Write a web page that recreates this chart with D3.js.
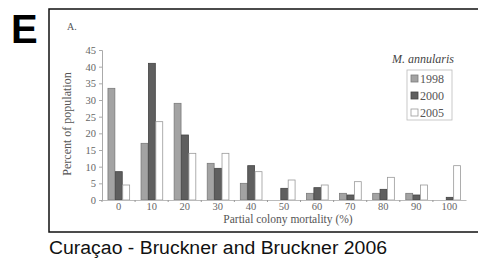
<!DOCTYPE html>
<html>
<head>
<meta charset="utf-8">
<script src="https://cdn.jsdelivr.net/npm/d3@7"></script>
<style>
  body { margin: 0; background: #fff; }
  svg { display: block; }
  .tick text { font-family: "Liberation Serif", serif; font-size: 10.5px; fill: #666; }
</style>
</head>
<body>
<div id="chart"></div>
<script>
const categories = ['0', '10', '20', '30', '40', '50', '60', '70', '80', '90', '100'];
const years = ['1998', '2000', '2005'];
const values1998 = [33.5, 17, 29, 11, 5, 0, 2, 2, 2, 2, 0];
const values2000 = [8.5, 41, 19.5, 9.5, 10.3, 3.5, 3.7, 1.5, 3.2, 1.5, 0.8];
const values2005 = [4.5, 23.5, 14, 14, 8.5, 6, 4.5, 5.5, 6.8, 4.5, 10.3];
const yTicks = [0, 5, 10, 15, 20, 25, 30, 35, 40, 45];

const seriesValues = [values1998, values2000, values2005];
const fills = ['#a3a3a3', '#5f5f5f', '#ffffff'];
const strokes = ['#7a7a7a', '#444', '#9a9a9a'];

const width = 478;
const height = 260;

const svg = d3.select('#chart').append('svg')
  .attr('width', width)
  .attr('height', height);

svg.append('rect').attr('width', width).attr('height', height).attr('fill', '#fff');

// panel letter
svg.append('text')
  .attr('x', 11)
  .attr('y', 43)
  .attr('font-family', 'Liberation Sans, Arial, sans-serif')
  .attr('font-weight', 'bold')
  .attr('font-size', 40)
  .attr('fill', '#000')
  .text('E');

// frame around the figure
svg.append('rect')
  .attr('x', 49)
  .attr('y', 9)
  .attr('width', 460)
  .attr('height', 223)
  .attr('fill', 'none')
  .attr('stroke', '#111')
  .attr('stroke-width', 1.5);

const x = d3.scaleBand()
  .domain(categories)
  .range([102, 466])
  .paddingInner(0.33)
  .paddingOuter(0.165);

const xSub = d3.scaleBand()
  .domain(years)
  .range([0, x.bandwidth()]);

const y = d3.scaleLinear()
  .domain([0, 45])
  .range([200, 50]);

// bars
const rows = [];
categories.forEach((c, i) => {
  years.forEach((yr, s) => {
    rows.push({ cat: c, year: yr, s: s, v: seriesValues[s][i] });
  });
});

svg.append('g').selectAll('rect')
  .data(rows.filter(d => d.v > 0))
  .enter()
  .append('rect')
  .attr('x', d => x(d.cat) + xSub(d.year) + 0.5)
  .attr('y', d => y(d.v))
  .attr('width', xSub.bandwidth() - 0.5)
  .attr('height', d => y(0) - y(d.v))
  .attr('fill', d => fills[d.s])
  .attr('stroke', d => strokes[d.s])
  .attr('stroke-width', 0.8);

// y axis
const yAxis = d3.axisLeft(y).tickValues(yTicks).tickSize(3).tickPadding(3);
const gy = svg.append('g')
  .attr('transform', 'translate(102,0)')
  .call(yAxis);
gy.selectAll('path, line').attr('stroke', '#aaa');

// x axis
const xAxis = d3.axisBottom(x).tickSize(0).tickPadding(3);
const gx = svg.append('g')
  .attr('transform', 'translate(0,200)')
  .call(xAxis);
gx.select('.domain').attr('stroke', '#bbb');

// small ticks between groups
const bounds = categories.slice(0, -1).map(c => x(c) + x.step() - x.step() * x.paddingInner() / 2);
bounds.unshift(x.range()[0]);
gx.selectAll('.bound')
  .data(bounds)
  .enter()
  .append('line')
  .attr('x1', d => d)
  .attr('x2', d => d)
  .attr('y1', 0)
  .attr('y2', 2)
  .attr('stroke', '#999');

// axis titles
svg.append('text')
  .attr('x', 288)
  .attr('y', 223)
  .attr('text-anchor', 'middle')
  .attr('font-family', 'Liberation Serif, serif')
  .attr('font-size', 11.5)
  .attr('fill', '#555')
  .text('Partial colony mortality (%)');

svg.append('text')
  .attr('transform', 'translate(71,124) rotate(-90)')
  .attr('text-anchor', 'middle')
  .attr('font-family', 'Liberation Serif, serif')
  .attr('font-size', 12)
  .attr('fill', '#555')
  .text('Percent of population');

svg.append('text')
  .attr('x', 67)
  .attr('y', 30)
  .attr('font-family', 'Liberation Serif, serif')
  .attr('font-size', 10)
  .attr('fill', '#555')
  .text('A.');

// legend
svg.append('text')
  .attr('x', 392)
  .attr('y', 63)
  .attr('font-family', 'Liberation Serif, serif')
  .attr('font-style', 'italic')
  .attr('font-size', 12)
  .attr('fill', '#444')
  .text('M. annularis');

const legend = svg.append('g').attr('transform', 'translate(407,70)');
legend.append('rect')
  .attr('width', 45)
  .attr('height', 50)
  .attr('fill', '#fff')
  .attr('stroke', '#bbb')
  .attr('stroke-width', 0.8);

const items = legend.selectAll('.item')
  .data(years)
  .enter()
  .append('g')
  .attr('transform', (d, i) => `translate(4, ${5 + i * 17})`);

items.append('rect')
  .attr('width', 7)
  .attr('height', 7)
  .attr('fill', (d, i) => fills[i])
  .attr('stroke', (d, i) => strokes[i])
  .attr('stroke-width', 0.8);

items.append('text')
  .attr('x', 9)
  .attr('y', 7.5)
  .attr('font-family', 'Liberation Serif, serif')
  .attr('font-size', 12)
  .attr('fill', '#555')
  .text(d => d);

// caption
svg.append('text')
  .attr('x', 49)
  .attr('y', 254)
  .attr('font-family', 'Liberation Sans, Arial, sans-serif')
  .attr('font-size', 18)
  .attr('textLength', 338)
  .attr('lengthAdjust', 'spacingAndGlyphs')
  .attr('fill', '#111')
  .text('Curaçao - Bruckner and Bruckner 2006');
</script>
</body>
</html>
